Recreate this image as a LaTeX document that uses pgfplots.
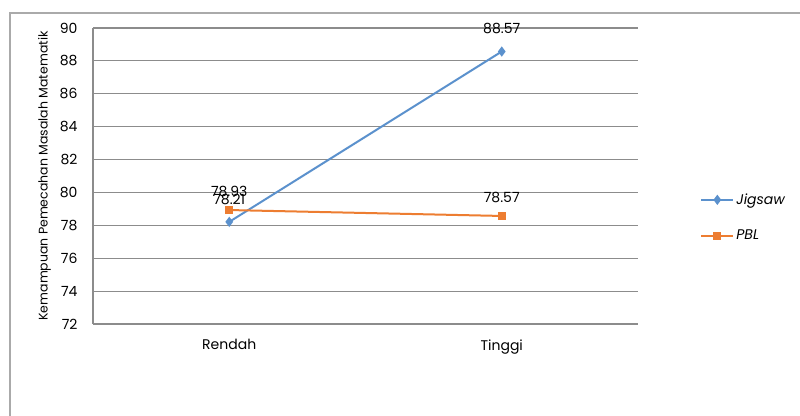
\documentclass[border=0pt]{standalone}
\usepackage{pgfplots}
\pgfplotsset{compat=1.18}
\usepackage{fontspec}
\setmainfont{Poppins}
\definecolor{jig}{RGB}{91,145,205}
\definecolor{pbl}{RGB}{237,125,49}
\definecolor{gridc}{RGB}{140,140,140}
\definecolor{framec}{RGB}{170,170,170}
\begin{document}
\begin{tikzpicture}[x=1pt,y=1pt]
\useasboundingbox (0,0) rectangle (800,415);
\clip (0,0) rectangle (800,415);
\fill[white] (0,0) rectangle (800,415);
\draw[framec, line width=1.5pt] (10,-10) rectangle (815,402);
\begin{axis}[
  at={(93pt,91pt)}, anchor=south west,
  width=545pt, height=296pt, scale only axis,
  xmin=-0.5, xmax=1.5, ymin=72, ymax=90,
  xtick={0,1}, xticklabels={Rendah,Tinggi},
  ytick={72,74,...,90},
  axis x line=bottom, axis y line=left,
  axis line style={gridc, line width=1.2pt, -},
  ymajorgrids, grid style={gridc, line width=1.2pt},
  major tick length=0pt,
  tick label style={font=\fontsize{14}{16}\selectfont},
  /pgf/number format/assume math mode=true,
  yticklabel style={xshift=-12pt},
  xticklabel style={yshift=-12pt},
  ylabel={Kemampuan Pemecahan Masalah Matematik},
  ylabel style={font=\fontsize{12.5}{14}\selectfont, yshift=2pt},
  every node near coord/.append style={font=\fontsize{14}{16}\selectfont, color=black, anchor=south, yshift=13pt},
  legend style={at={(1.114,0.36)}, anchor=west, draw=none, fill=none,
    font=\fontsize{14}{16}\selectfont\itshape, row sep=20pt, inner sep=0pt},
  legend cell align=left,
  legend image code/.code={\draw[mark repeat=2,mark phase=2] plot coordinates {(0pt,0pt) (16pt,0pt) (32pt,0pt)};},
  clip=false,
]
\addplot[jig, line width=2pt, mark=diamond*, mark size=3.5pt, mark options={fill=jig, draw=jig},
  nodes near coords, point meta=explicit symbolic]
  coordinates {(0,78.21) [78.21] (1,88.57) [88.57]};
\addlegendentry{Jigsaw}
\addplot[pbl, line width=2pt, mark=square*, mark size=3pt, mark options={fill=pbl, draw=pbl},
  nodes near coords, point meta=explicit symbolic,
  every node near coord/.append style={yshift=-4pt}]
  coordinates {(0,78.93) [78.93] (1,78.57) [78.57]};
\addlegendentry{PBL}
\end{axis}
\end{tikzpicture}
\end{document}
